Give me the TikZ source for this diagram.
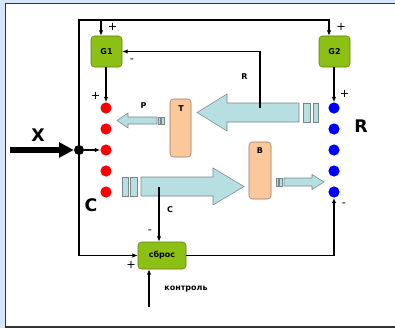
\documentclass[tikz,border=0pt]{standalone}
\usepackage{fontspec}
\setmainfont{DejaVu Sans}
\usetikzlibrary{arrows.meta,calc}
\definecolor{bgblue}{RGB}{214,230,250}
\definecolor{gfill}{RGB}{140,192,20}
\definecolor{gdraw}{RGB}{95,125,20}
\definecolor{pfill}{RGB}{250,200,155}
\definecolor{pdraw}{RGB}{150,120,95}
\definecolor{afill}{RGB}{183,222,225}
\definecolor{adraw}{RGB}{120,135,138}
\begin{document}
\begin{tikzpicture}[x=0.75pt,y=-0.75pt,
  ln/.style={draw=black,line width=1pt},
  ar/.style={-{Latex[length=4pt,width=3.4pt]}},
  gbox/.style={draw=gdraw,fill=gfill,rounded corners=2.5pt,minimum width=23.25pt,minimum height=23.25pt,inner sep=0pt,font=\bfseries\fontsize{6}{7}\selectfont},
  pbox/.style={draw=pdraw,fill=pfill,rounded corners=2.5pt,inner sep=0pt},
  rdot/.style={circle,fill=red,minimum size=8.4pt,inner sep=0pt},
  bdot/.style={circle,fill=blue,minimum size=8.4pt,inner sep=0pt},
  ashape/.style={draw=adraw,fill=afill,line width=0.4pt},
  lbl/.style={font=\bfseries\fontsize{6}{7}\selectfont,inner sep=0pt},
  big/.style={font=\bfseries\fontsize{13}{15}\selectfont,inner sep=0pt},
  sgn/.style={font=\fontsize{8.5}{9}\selectfont,inner sep=0pt}]
\useasboundingbox (0,0) rectangle (395,328);
% background and panel
\fill[bgblue] (0,0) rectangle (395,328);
\begin{scope}
\clip (0,0) rectangle (395,328);
\filldraw[fill=white,draw=black!80,line width=0.9pt] (5.5,3.5) rectangle (400,327);
\end{scope}
% block arrows
\draw[ashape] (197,112.5) -- (227,94) -- (227,103) -- (299,103) -- (299,122) -- (227,122) -- (227,131) -- cycle;
\draw[ashape] (303,103) rectangle (310,122);
\draw[ashape] (313,103) rectangle (318,122);
\draw[ashape] (244,186.5) -- (213,168) -- (213,177) -- (141,177) -- (141,196) -- (213,196) -- (213,205) -- cycle;
\draw[ashape] (122,177) rectangle (128,196);
\draw[ashape] (130,177) rectangle (137,196);
\draw[ashape] (117,120.5) -- (128,113) -- (128,117) -- (157,117) -- (157,124) -- (128,124) -- (128,128) -- cycle;
\draw[ashape] (158,117) rectangle (160.5,124);
\draw[ashape] (161.5,117) rectangle (164,124);
\draw[ashape] (324,182) -- (312,174.5) -- (312,178) -- (284,178) -- (284,186) -- (312,186) -- (312,189.5) -- cycle;
\draw[ashape] (276,178) rectangle (278.5,186);
\draw[ashape] (279.5,178) rectangle (282.5,186);
% boxes
\node[gbox] (G1) at (106.5,51.5) {G1};
\node[gbox] (G2) at (334.5,51.5) {G2};
\node[pbox,minimum width=15.75pt,minimum height=43.5pt] (T) at (180.5,128) {};
\node[lbl] at (181,108.5) {T};
\node[pbox,minimum width=16.5pt,minimum height=42.75pt] (B) at (260,170.5) {};
\node[lbl] at (260,151) {B};
\node[gbox,minimum width=36pt,minimum height=20.25pt] (sbros) at (162,255.5) {сброс};
% dots
\foreach \i/\y in {1/108,2/129,3/150,4/171,5/192}{
  \node[rdot] (r\i) at (106,\y) {};
  \node[bdot] (b\i) at (334,\y) {};
}
\node[circle,fill=black,minimum size=7.5pt,inner sep=0pt] (J) at (79,150) {};
% coordinates
\coordinate (topL) at (79,20);
\coordinate (topR) at (329,20);
\coordinate (g1in) at (101,20);
\coordinate (xs) at (10,150);
\coordinate (rs) at (260,108);
\coordinate (cs) at (159,187);
\coordinate (ks) at (149,307);
% connectors
\draw[ln,ar] (J.center) -- (topL) -- (topR) -- (topR |- G2.north);
\draw[ln,ar] (g1in) -- (g1in |- G1.north);
\draw[ln,ar] (J.center) |- (sbros.west);
\draw[ln,ar] (sbros.east) -| (b5.south);
\draw[ln,ar] (r1.north |- G1.south) -- (r1.north);
\draw[ln,ar] (b1.north |- G2.south) -- (b1.north);
\draw[ln,ar] (J.east) -- (r3.west);
\draw[line width=4.5pt,-{Triangle[length=11pt,width=11pt]}] (xs) -- (J.west);
\draw[ln,ar] (rs) |- (G1.east);
\draw[ln,ar] (cs) -- (cs |- sbros.north);
\draw[ln,ar] (ks) -- (ks |- sbros.south);
% labels
\node[big] at (38,135.5) {X};
\node[big] at (91,205) {C};
\node[big] at (361,126) {R};
\node[lbl] at (143.5,106) {P};
\node[lbl] at (244.5,77) {R};
\node[lbl] at (170,209.5) {C};
\node[lbl] at (186,289) {контроль};
% signs
\node[sgn] at (112.5,27) {+};
\node[sgn] at (132,61) {-};
\node[sgn] at (95.5,96) {+};
\node[sgn] at (341,27) {+};
\node[sgn] at (344.5,94) {+};
\node[sgn] at (344,205) {-};
\node[sgn] at (150,232) {-};
\node[sgn] at (131,265) {+};
\end{tikzpicture}
\end{document}
